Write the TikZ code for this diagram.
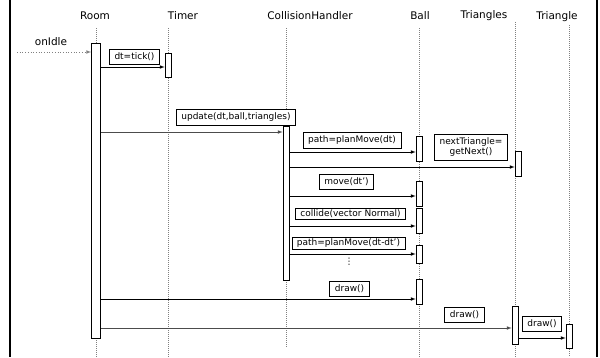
\documentclass[tikz,border=0pt]{standalone}
\usepackage{fontspec}
\setmainfont{DejaVu Sans}
\tikzset{
  head/.style={font=\fontsize{10.5}{13}\selectfont},
  life/.style={draw,gray,dash pattern=on 1pt off 1pt},
  act/.style={draw,fill=white,line width=0.7pt,minimum width=6pt,inner sep=0pt},
  lbl/.style={draw,fill=white,line width=0.7pt,font=\fontsize{9}{10.5}\selectfont,inner xsep=5pt,inner ysep=3.5pt,align=center},
  msg/.style={draw,line width=0.7pt,->,>=latex}
}
\begin{document}
\begin{tikzpicture}[x=1pt,y=-1pt]
\useasboundingbox (0,0) rectangle (600,357);
% frame sides
\draw[line width=2pt] (10,0) -- (10,357);
\draw[line width=2pt] (597,0) -- (597,357);

% objects
\node[head] (room) at (95,16) {Room};
\node[head] (timer) at (183,16) {Timer};
\node[head] (coll) at (310,16) {CollisionHandler};
\node[head] (ball) at (420,16) {Ball};
\node[head] (tris) at (484,16) {Triangles};
\node[head] (tri) at (557,17) {Triangle};

% lifelines
\path[life] (96,28) -- (96,357);
\path[life] (168,28) -- (168,357);
\path[life] (286,28) -- (286,348);
\path[life] (419,28) -- (419,357);
\path[life] (515,22) -- (515,357);
\path[life] (569,25) -- (569,357);

% activations
\node[act, minimum width=9pt, minimum height=295pt] (roomact) at (96,190.5) {};
\node[act, minimum height=24pt] (timeract) at (168,65) {};
\node[act, minimum height=154pt] (collact) at (286,203) {};
\node[act, minimum height=25pt] (ball1) at (419,148.5) {};
\node[act, minimum height=25pt] (tris1) at (518,163.5) {};
\node[act, minimum height=25pt] (ball2) at (419,193.5) {};
\node[act, minimum height=25pt] (ball3) at (419,220.5) {};
\node[act, minimum height=18pt] (ball4) at (419,254) {};
\node[act, minimum height=25pt] (ball5) at (419,291.5) {};
\node[act, minimum height=38pt] (tris2) at (515,325) {};
\node[act, minimum height=24pt] (triact) at (569,336) {};

% incoming call
\node[head] (idle) at (51,42) {onIdle};
\coordinate (start) at (17,52);
\path[draw,gray,dotted,line width=0.7pt,->,>=latex] (start) -- (roomact.west |- start);

% message labels
\node[lbl] (tick) at (134.5,56.5) {dt=tick()};
\node[lbl] (update) at (236,117) {update(dt,ball,triangles)};
\node[lbl] (plan) at (352,140) {path=planMove(dt)};
\node[lbl] (next) at (471,147) {nextTriangle=\\getNext()};
\node[lbl] (move) at (346.5,182) {move(dt')};
\node[lbl, inner ysep=1.5pt] (collide) at (350.5,214) {collide(vector Normal)};
\node[lbl, inner ysep=1.5pt] (plan2) at (348.5,243.5) {path=planMove(dt-dt')};
\node[font=\fontsize{9}{9}\selectfont,inner sep=0pt] (dots) at (349,262) {⋮};
\node[lbl] (drawball) at (349.5,288.5) {draw()};
\node[lbl] (drawtris) at (464.5,314.5) {draw()};
\node[lbl] (drawtri) at (542,324) {draw()};

% message heights
\coordinate (m1) at (0,67);
\coordinate (m2) at (0,132);
\coordinate (m3) at (0,152);
\coordinate (m4) at (0,167);
\coordinate (m5) at (0,196);
\coordinate (m6) at (0,226);
\coordinate (m7) at (0,254);
\coordinate (m8) at (0,299);
\coordinate (m9) at (0,328);
\coordinate (m10) at (0,338);

\path[draw,msg] (roomact.east |- m1) -- (timeract.west |- m1);
\path[draw,msg,gray!60!black] (roomact.east |- m2) -- (collact.west |- m2);
\path[draw,msg] (collact.east |- m3) -- (ball1.west |- m3);
\path[draw,msg] (collact.east |- m4) -- (tris1.west |- m4);
\path[draw,msg] (collact.east |- m5) -- (ball2.west |- m5);
\path[draw,msg] (collact.east |- m6) -- (ball3.west |- m6);
\path[draw,msg] (collact.east |- m7) -- (ball4.west |- m7);
\path[draw,msg] (roomact.east |- m8) -- (ball5.west |- m8);
\path[draw,msg,gray!60!black] (roomact.east |- m9) -- (tris2.west |- m9);
\path[draw,msg] (tris2.east |- m10) -- (triact.west |- m10);
\end{tikzpicture}
\end{document}
